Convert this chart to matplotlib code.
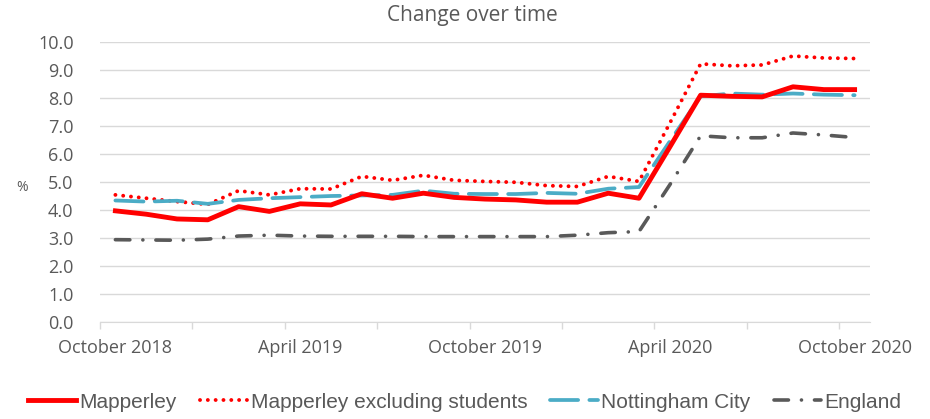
import matplotlib
matplotlib.use("Agg")
import matplotlib.pyplot as plt
import numpy as np

months = ["October 2018", "November 2018", "December 2018", "January 2019", "February 2019",
          "March 2019", "April 2019", "May 2019", "June 2019", "July 2019", "August 2019",
          "September 2019", "October 2019", "November 2019", "December 2019", "January 2020",
          "February 2020", "March 2020", "April 2020", "May 2020", "June 2020", "July 2020",
          "August 2020", "September 2020", "October 2020"]

mapperley = [3.97, 3.85, 3.68, 3.65, 4.12, 3.95, 4.22, 4.18, 4.58, 4.42, 4.60, 4.45,
             4.39, 4.36, 4.28, 4.28, 4.60, 4.42, 6.25, 8.10, 8.06, 8.04, 8.40, 8.30, 8.30]
mapperley_ex = [4.54, 4.42, 4.30, 4.20, 4.69, 4.54, 4.76, 4.75, 5.20, 5.06, 5.24, 5.06,
                5.02, 4.99, 4.87, 4.84, 5.20, 5.02, 7.10, 9.22, 9.15, 9.18, 9.50, 9.43, 9.41]
nottingham = [4.34, 4.30, 4.33, 4.22, 4.36, 4.42, 4.46, 4.50, 4.52, 4.54, 4.69, 4.58,
              4.57, 4.57, 4.61, 4.58, 4.76, 4.82, 6.45, 8.06, 8.16, 8.12, 8.16, 8.12, 8.10]
england = [2.94, 2.93, 2.92, 2.96, 3.07, 3.10, 3.07, 3.06, 3.06, 3.06, 3.05, 3.05,
           3.05, 3.05, 3.05, 3.10, 3.19, 3.23, 4.90, 6.65, 6.58, 6.58, 6.75, 6.68, 6.59]

series_names = ["Mapperley", "Mapperley excluding students", "Nottingham City", "England"]
yticks = [0, 1, 2, 3, 4, 5, 6, 7, 8, 9, 10]
label_idx = [0, 6, 12, 18, 24]

TEXT = "#595959"
GRID = "#D9D9D9"
tick_font = ["Open Sans", "DejaVu Sans"]
leg_font = ["Liberation Sans Narrow", "Liberation Sans", "DejaVu Sans"]

fig = plt.figure(figsize=(9.3, 4.19), dpi=100)
ax = fig.add_axes([100/930, 1-322/419, 770/930, 280/419])

x = np.arange(len(months))

l1, = ax.plot(x, mapperley, color="#FF0000", lw=3.5, solid_joinstyle="round", label=series_names[0], zorder=5)
l2, = ax.plot(x, mapperley_ex, color="#FF0000", lw=2.8, linestyle=(0, (0.01, 2.0)),
              dash_capstyle="round", label=series_names[1], zorder=4)
l3, = ax.plot(x, nottingham, color="#4BACC6", lw=2.7, linestyle=(0, (7.5, 3.0)),
              dash_capstyle="round", label=series_names[2], zorder=4)
l4, = ax.plot(x, england, color="#595959", lw=2.6, linestyle=(0, (4.0, 3.6, 0.01, 3.6)),
              dash_capstyle="round", label=series_names[3], zorder=3)

ax.set_xlim(-0.5, len(months) - 0.5)
ax.set_ylim(0, 10)
ax.set_yticks(yticks)
ax.set_yticklabels([f"{v:.1f}" for v in yticks], fontfamily=tick_font, fontsize=13, color=TEXT)
ax.yaxis.grid(True, color=GRID, lw=1)
ax.set_axisbelow(True)
ax.tick_params(axis="y", length=0, pad=19)

ax.set_xticks([i for i in label_idx])
ax.set_xticklabels([months[i] for i in label_idx], fontfamily=tick_font, fontsize=13, color=TEXT)
ax.tick_params(axis="x", which="major", length=0, pad=12)
ax.set_xticks(np.arange(-0.5, len(months) - 0.5, 3), minor=True)
ax.tick_params(axis="x", which="minor", length=5, color=GRID, width=1)

for s in ["top", "right", "left"]:
    ax.spines[s].set_visible(False)
ax.spines["bottom"].set_color(GRID)

fig.text(22/930, 1-187/419, "%", fontfamily=tick_font, fontsize=10, color=TEXT, ha="center", va="center")
fig.text(472/930, 1-16/419, "Change over time", fontfamily=tick_font, fontsize=15, color=TEXT,
         ha="center", va="center")

leg = fig.legend(handles=[l1, l2, l3, l4], loc="center", bbox_to_anchor=(0.5, 1-402/419),
                 ncol=4, frameon=False, prop={"family": leg_font, "size": 15},
                 handlelength=2.3, handletextpad=0.15, columnspacing=1.1, labelcolor=TEXT)

fig.savefig("out.png", dpi=100)
